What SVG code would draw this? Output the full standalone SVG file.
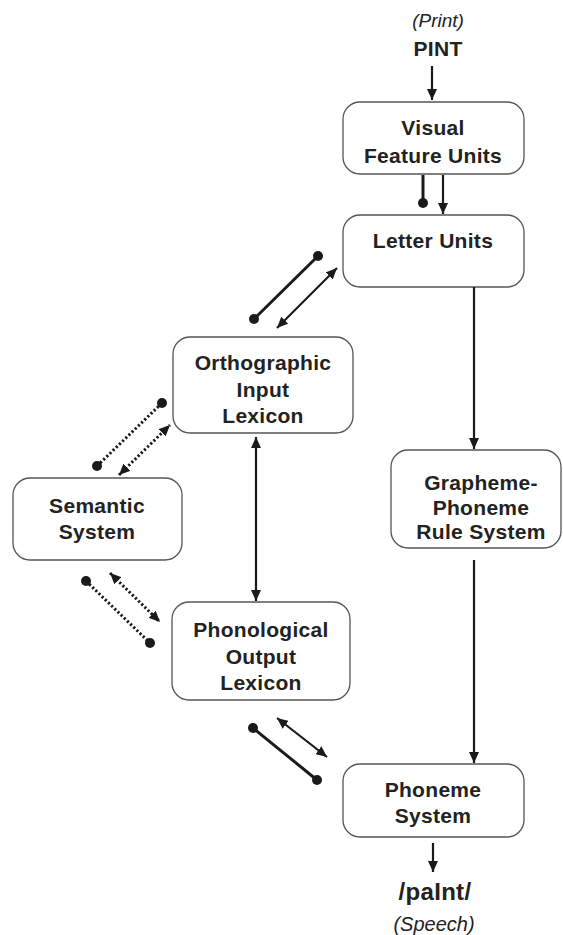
<svg xmlns="http://www.w3.org/2000/svg" width="563" height="935" viewBox="0 0 563 935">
<style>
.box{fill:#fff;stroke:#555;stroke-width:1.3}
.lbl{font-family:"Liberation Sans",Arial,sans-serif;font-weight:bold;font-size:21px;fill:#222;text-anchor:middle;letter-spacing:0.3px}
.it{font-family:"Liberation Sans",Arial,sans-serif;font-style:italic;font-size:19px;fill:#222;text-anchor:middle}
.ln{stroke:#1a1a1a;stroke-width:2.2;fill:none}
.ln2{stroke:#1a1a1a;stroke-width:3;fill:none}
.dt{stroke:#1a1a1a;stroke-width:3;fill:none;stroke-dasharray:2.2 2.2}
.dot{fill:#1a1a1a}
</style>
<defs>
<marker id="ah" markerUnits="userSpaceOnUse" markerWidth="12" markerHeight="10" refX="11" refY="5" orient="auto">
<path d="M0,0 L11,5 L0,10 z" fill="#1a1a1a"/>
</marker>
<marker id="as" markerUnits="userSpaceOnUse" markerWidth="12" markerHeight="10" refX="1" refY="5" orient="auto">
<path d="M12,0 L1,5 L12,10 z" fill="#1a1a1a"/>
</marker>
</defs>

<g id="input">
<text class="it" x="438" y="27">(Print)</text>
<text class="lbl" x="438" y="56">PINT</text>
</g>
<g id="visual">
<rect class="box" x="343" y="102" width="181" height="72" rx="17"/>
<text class="lbl" x="433" y="135">Visual</text>
<text class="lbl" x="433" y="163">Feature Units</text>
</g>
<g id="letter">
<rect class="box" x="343" y="215" width="181" height="72" rx="17"/>
<text class="lbl" x="433" y="248">Letter Units</text>
</g>
<g id="orthographic">
<rect class="box" x="173" y="337" width="180" height="96" rx="17"/>
<text class="lbl" x="263" y="370">Orthographic</text>
<text class="lbl" x="263" y="397">Input</text>
<text class="lbl" x="263" y="423">Lexicon</text>
</g>
<g id="semantic">
<rect class="box" x="13" y="478" width="169" height="82" rx="17"/>
<text class="lbl" x="97" y="513">Semantic</text>
<text class="lbl" x="97" y="539">System</text>
</g>
<g id="gpr">
<rect class="box" x="391" y="450" width="170" height="98" rx="17"/>
<text class="lbl" x="481" y="490">Grapheme-</text>
<text class="lbl" x="481" y="515">Phoneme</text>
<text class="lbl" x="481" y="539">Rule System</text>
</g>
<g id="phonological">
<rect class="box" x="172" y="602" width="178" height="98" rx="17"/>
<text class="lbl" x="261" y="637">Phonological</text>
<text class="lbl" x="261" y="664">Output</text>
<text class="lbl" x="261" y="690">Lexicon</text>
</g>
<g id="phoneme">
<rect class="box" x="343" y="764" width="181" height="73" rx="17"/>
<text class="lbl" x="433" y="797">Phoneme</text>
<text class="lbl" x="433" y="823">System</text>
</g>
<g id="output">
<text class="lbl" x="435" y="900" style="font-size:24px">/paInt/</text>
<text class="it" x="434" y="931" style="font-size:20px">(Speech)</text>
</g>

<g id="connectors">
<line class="ln" x1="432" y1="66" x2="432" y2="100" marker-end="url(#ah)"/>
<line class="ln2" x1="423" y1="175" x2="423" y2="202"/>
<circle class="dot" cx="423" cy="203" r="5"/>
<line class="ln" x1="443" y1="175" x2="443" y2="214" marker-end="url(#ah)"/>
<line class="ln" x1="474" y1="287" x2="474" y2="449" marker-end="url(#ah)"/>
<line class="ln" x1="474" y1="560" x2="474" y2="763" marker-end="url(#ah)"/>
<line class="ln" x1="433" y1="843" x2="433" y2="872" marker-end="url(#ah)"/>

<line class="ln2" x1="254" y1="319" x2="318" y2="256"/>
<circle class="dot" cx="254" cy="319" r="5"/>
<circle class="dot" cx="318" cy="256" r="5"/>
<line class="ln" x1="277" y1="328" x2="337" y2="268" marker-start="url(#as)" marker-end="url(#ah)"/>

<line class="ln" x1="256" y1="437" x2="256" y2="601" marker-start="url(#as)" marker-end="url(#ah)"/>

<line class="dt" x1="97" y1="466" x2="162" y2="403"/>
<circle class="dot" cx="97" cy="466" r="5"/>
<circle class="dot" cx="162" cy="403" r="5"/>
<line class="dt" x1="119" y1="475" x2="170" y2="425" marker-start="url(#as)" marker-end="url(#ah)"/>

<line class="dt" x1="86" y1="581" x2="150" y2="643"/>
<circle class="dot" cx="86" cy="581" r="5"/>
<circle class="dot" cx="150" cy="643" r="5"/>
<line class="dt" x1="110" y1="573" x2="160" y2="622" marker-start="url(#as)" marker-end="url(#ah)"/>

<line class="ln2" x1="253" y1="728" x2="317" y2="780"/>
<circle class="dot" cx="253" cy="728" r="5"/>
<circle class="dot" cx="317" cy="780" r="5"/>
<line class="ln" x1="277" y1="718" x2="327" y2="757" marker-start="url(#as)" marker-end="url(#ah)"/>
</g>
</svg>
